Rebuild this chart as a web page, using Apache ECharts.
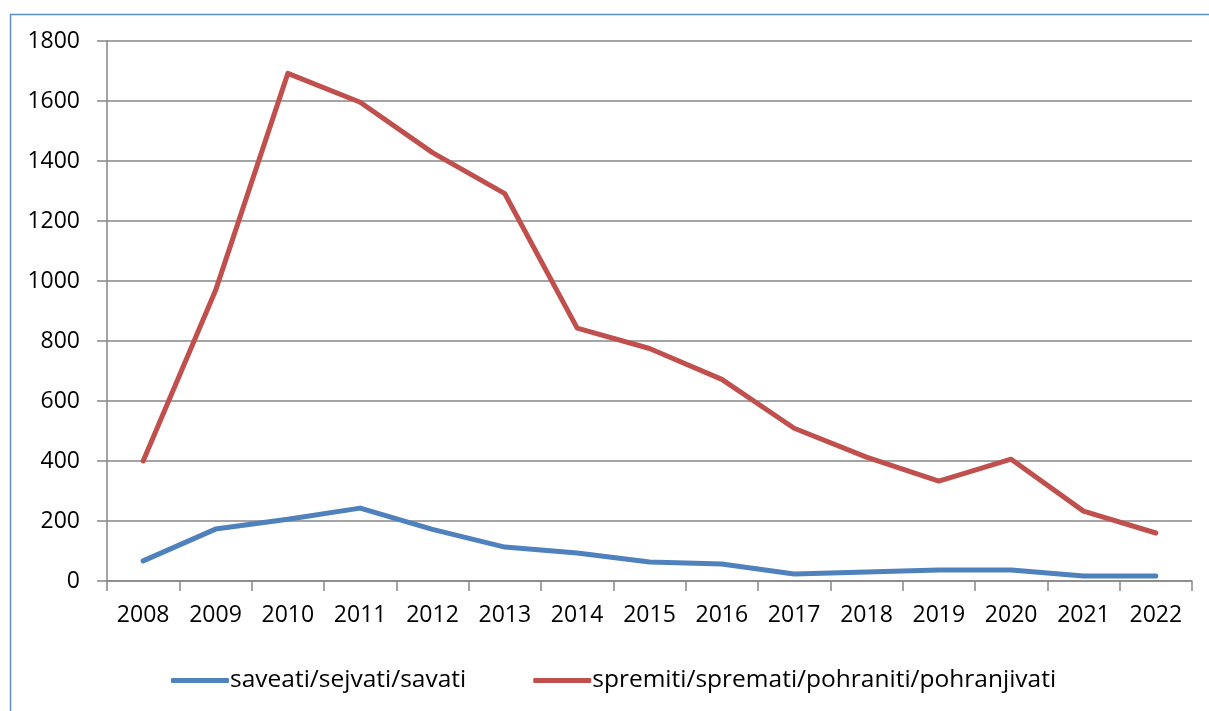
<!DOCTYPE html>
<html>
<head>
<meta charset="utf-8">
<script src="https://cdn.jsdelivr.net/npm/echarts@6/dist/echarts.min.js"></script>
<style>
  html, body { margin: 0; padding: 0; background: #ffffff; }
  #chart { width: 1209px; height: 711px; }
</style>
</head>
<body>
<div id="chart"></div>
<script>
// Yearly usage counts of two Croatian verb groups
const years = ['2008', '2009', '2010', '2011', '2012', '2013', '2014', '2015',
               '2016', '2017', '2018', '2019', '2020', '2021', '2022'];
const saveatiName = 'saveati/sejvati/savati';
const spremitiName = 'spremiti/spremati/pohraniti/pohranjivati';
const saveatiValues = [67, 173, 206, 243, 172, 113, 93, 63, 57, 23, 30, 37, 37, 17, 17];
const spremitiValues = [400, 968, 1692, 1596, 1428, 1291, 843, 775, 672, 509, 413, 333, 406, 233, 160];
const yTicks = { min: 0, max: 1800, step: 200 };

const FONT = '"Open Sans", "Liberation Sans", sans-serif';
const AXIS_GREY = '#868686';
const BLUE = '#4F81BD';
const RED = '#C0504D';

const chart = echarts.init(document.getElementById('chart'), null, { renderer: 'canvas' });

chart.setOption({
  backgroundColor: '#ffffff',
  animation: false,
  graphic: [{
    type: 'rect',
    left: 8, top: 12,
    shape: { width: 1400, height: 900 },
    style: { fill: 'none', stroke: '#5B8FD0', lineWidth: 1.5 },
    silent: true, z: 0
  }],
  grid: { left: 107, right: 17, top: 41, bottom: 130, containLabel: false },
  legend: {
    top: 663,
    left: 166,
    itemWidth: 58,
    itemHeight: 5,
    itemGap: 67,
    icon: 'roundRect',
    textStyle: { fontFamily: FONT, fontSize: 24.5, color: '#000000', padding: [0, 0, 0, -4] },
    data: [saveatiName, spremitiName]
  },
  xAxis: {
    type: 'category',
    data: years,
    boundaryGap: true,
    axisLine: { lineStyle: { color: AXIS_GREY, width: 1.5 } },
    axisTick: { show: true, length: 10, lineStyle: { color: AXIS_GREY, width: 1.5 } },
    axisLabel: { fontFamily: FONT, fontSize: 23, color: '#000000', margin: 23 },
    splitLine: { show: false }
  },
  yAxis: {
    type: 'value',
    min: yTicks.min,
    max: yTicks.max,
    interval: yTicks.step,
    axisLine: { show: true, lineStyle: { color: AXIS_GREY, width: 1.5 } },
    axisTick: { show: true, length: 10, lineStyle: { color: AXIS_GREY, width: 1.5 } },
    axisLabel: {
      fontFamily: FONT, fontSize: 23, color: '#000000', margin: 27,
      formatter: (v) => String(v)
    },
    splitLine: { show: true, lineStyle: { color: AXIS_GREY, width: 1.5 } }
  },
  series: [
    {
      name: saveatiName,
      type: 'line',
      data: saveatiValues,
      symbol: 'none',
      color: BLUE,
      lineStyle: { color: BLUE, width: 5, join: 'round', cap: 'round' },
      z: 3
    },
    {
      name: spremitiName,
      type: 'line',
      data: spremitiValues,
      symbol: 'none',
      color: RED,
      lineStyle: { color: RED, width: 5, join: 'round', cap: 'round' },
      z: 4
    }
  ]
});
</script>
</body>
</html>
